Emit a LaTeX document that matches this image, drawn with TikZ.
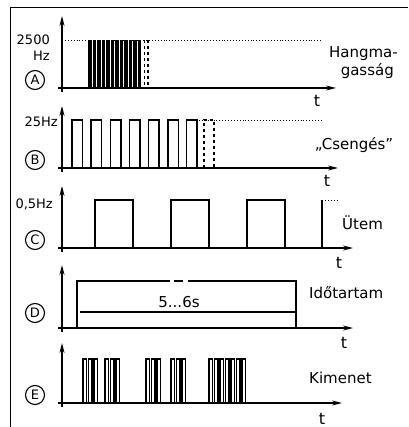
\documentclass[tikz,border=0pt]{standalone}
\usepackage{fontspec}
\setmainfont{DejaVu Sans}
\usetikzlibrary{arrows.meta}
\begin{document}
\begin{tikzpicture}[x=1pt,y=-1pt,
 sig/.style={line width=1.6pt, line join=miter},
 ax/.style={line width=1.3pt,-{Stealth[length=10pt,width=5pt]}},
 lvl/.style={dotted, line width=0.9pt},
 lab/.style={font=\fontsize{13}{13}\selectfont, inner sep=0pt},
 rlab/.style={font=\fontsize{15}{15}\selectfont, inner sep=0pt},
 tlab/.style={font=\fontsize{16}{16}\selectfont, inner sep=0pt},
 circ/.style={draw, circle, line width=1.1pt, minimum size=19pt, inner sep=0pt, font=\fontsize{13}{13}\selectfont}]
\useasboundingbox (0,0) rectangle (408,427);
\draw[line width=1pt] (10,427) -- (10,8) -- (408,8);

% ---------- A ----------
\coordinate (Ab) at (62,92); \coordinate (At) at (62,16);
\coordinate (Al) at (58,88); \coordinate (Ar) at (336,88);
\draw[ax] (Ab) -- (At);
\draw[ax] (Al) -- (Ar);
\draw[lvl] (62,40) -- (321,40);
\foreach \x in {88,92.5,...,138} \fill (\x,40) rectangle ++(3.6,48);
\draw[dashed, line width=1.1pt] (144.5,40) -- (144.5,88);
\draw[dashed, line width=1.1pt] (148,40) -- (148,88);
\node[lab, anchor=east] (a1) at (50,40) {2500};
\node[lab, anchor=east] (a2) at (50,56) {Hz};
\node[circ] (cA) at (35,80) {A};
\node[rlab, anchor=east] (a3) at (398,54) {Hangma-};
\node[rlab, anchor=east] (a4) at (394,71) {gasság};
\node[tlab] (tA) at (317,101) {t};

% ---------- B ----------
\coordinate (Bb) at (62,172); \coordinate (Bt) at (62,106);
\coordinate (Bl) at (58,168); \coordinate (Br) at (338,168);
\draw[ax] (Bb) -- (Bt);
\draw[ax] (Bl) -- (Br);
\draw[sig] (62,168) foreach \s in {72,91,110.5,129.5,148.5,168,186.5} {
  -- (\s,168) -- (\s,120) -- ({\s+10.5},120) -- ({\s+10.5},168)} -- (204,168);
\draw[dashed, line width=1.1pt] (204,168) -- (204,120) -- (214,120) -- (214,168);
\draw[lvl] (199,120) -- (322,120);
\node[lab, anchor=east] (b1) at (58,122) {25Hz};
\node[circ] (cB) at (35,160) {B};
\node[rlab] (b2) at (354,145) {„Csengés"};
\node[tlab] (tB) at (327,181) {t};

% ---------- C ----------
\coordinate (Cb) at (62,252); \coordinate (Ct) at (62,186);
\coordinate (Cl) at (58,248); \coordinate (Cr) at (353,248);
\draw[ax] (Cb) -- (Ct);
\draw[ax] (Cl) -- (Cr);
\draw[sig] (62,248) -- (95,248) -- (95,200) -- (133,200) -- (133,248)
  -- (171,248) -- (171,200) -- (209,200) -- (209,248)
  -- (247,248) -- (247,200) -- (285,200) -- (285,248)
  -- (322,248) -- (322,200);
\draw[lvl] (322,200) -- (337,200);
\node[lab, anchor=east] (c1) at (53,204) {0,5Hz};
\node[circ] (cC) at (35,240) {C};
\node[rlab, anchor=west] (c2) at (342,223) {Ütem};
\node[tlab] (tC) at (339,263) {t};

% ---------- D ----------
\coordinate (Db) at (62,332); \coordinate (Dt) at (62,265);
\coordinate (Dl) at (58,328); \coordinate (Dr) at (353,328);
\draw[ax] (Db) -- (Dt);
\draw[ax] (Dl) -- (Dr);
\draw[sig] (62,328) -- (77,328) -- (77,281) -- (170,281);
\draw[sig] (174,281) -- (183,281);
\draw[sig] (188,281) -- (296,281) -- (296,328);
\draw[line width=1.1pt] (80,312) -- (296,312);
\node[rlab] (d1) at (179,302) {5...6s};
\node[circ] (cD) at (35,313) {D};
\node[rlab, anchor=west] (d2) at (309,293) {Időtartam};
\node[tlab] (tD) at (344,343) {t};

% ---------- E ----------
\coordinate (Eb) at (62,407); \coordinate (Et) at (62,343);
\coordinate (El) at (58,403); \coordinate (Er) at (342,403);
\draw[ax] (Eb) -- (Et);
\draw[ax] (El) -- (Er);
\draw[sig] (62,403) foreach \s in {83,88.5,94,105,110.5,116,146,151.5,157,171,176.5,182,209,214.5,220,225.5,231,236.5,242} {
  -- (\s,403) -- (\s,359) -- ({\s+3.5},359) -- ({\s+3.5},403)} -- (255,403);
\node[circ] (cE) at (35,395) {E};
\node[rlab, anchor=west] (e1) at (309,378) {Kimenet};
\node[tlab] (tE) at (322,419) {t};
\end{tikzpicture}
\end{document}
